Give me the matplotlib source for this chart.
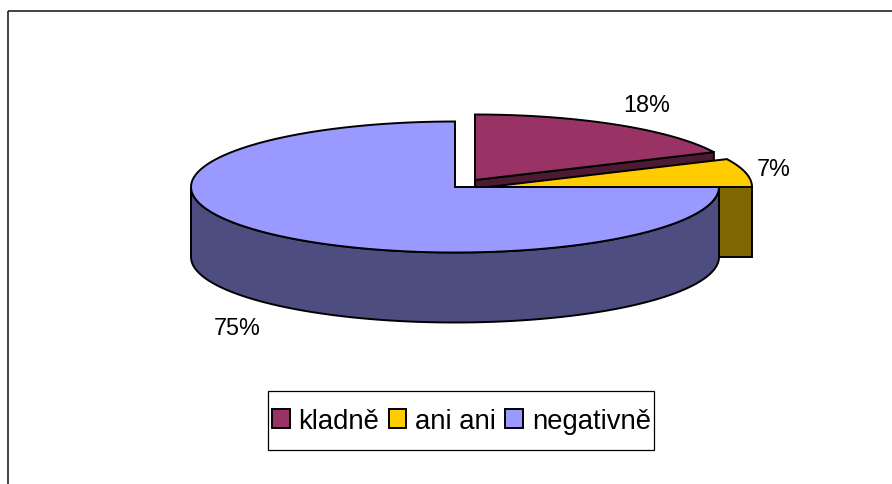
import numpy as np
import matplotlib
matplotlib.use('Agg')
import matplotlib.pyplot as plt
from matplotlib.patches import Polygon, Rectangle, Patch

labels = ['kladně', 'ani ani', 'negativně']
values = [18, 7, 75]
top_colors = ['#993366', '#ffcc00', '#9999ff']
side_colors = ['#4d1a33', '#806600', '#4d4d80']

# pie geometry in pixels
cx, cy = 455, 188
rx, ry = 264, 65.5
depth = 70
offsets = [(20, -7), (33, 0), (0, 0)]
label_pos = [(647, 105.5), (774, 169.5), (237, 329)]
lw = 1.4

plt.rcParams['font.family'] = ['Liberation Sans', 'DejaVu Sans']

fig = plt.figure(figsize=(8.92, 4.85), dpi=100)
ax = fig.add_axes([0, 0, 1, 1])
ax.set_xlim(0, 892)
ax.set_ylim(485, 0)
ax.axis('off')

# chart frame, runs off the right and bottom of the picture
ax.add_patch(Rectangle((7.5, 12), 900, 500, fill=False, ec='#222222', lw=1.2))

# slice angles, clockwise from 12 o'clock
ends = np.cumsum(values) / sum(values) * 360
starts = ends - np.array(values) / sum(values) * 360


def arc(i, a0, a1):
    t = np.radians(np.linspace(a0, a1, 120))
    return (cx + offsets[i][0] + rx * np.sin(t),
            cy + offsets[i][1] - ry * np.cos(t))


for i in range(3):
    ox, oy = cx + offsets[i][0], cy + offsets[i][1]
    x, y = arc(i, starts[i], ends[i])

    # side wall first
    if i == 2:
        # front half of the rim only
        xs, ys = arc(i, max(starts[i], 90), min(ends[i], 270))
        px = np.r_[xs, xs[::-1]]
        py = np.r_[ys, ys[::-1] + depth]
    elif i == 1:
        # only the cut face at 3 o'clock shows
        px = [x[-1], x[-1], x[-1] - 33, x[-1] - 33]
        py = [y[-1], y[-1] + depth, y[-1] + depth, y[-1]]
    else:
        # wall under the far radial edge, mostly hidden by the next slice
        px = [ox, x[-1], x[-1], ox]
        py = [oy, y[-1], y[-1] + depth, oy + depth]
    ax.add_patch(Polygon(np.c_[px, py], closed=True, fc=side_colors[i],
                         ec='black', lw=lw, joinstyle='miter', zorder=i * 2 + 1))

    # top face
    px = np.r_[ox, x]
    py = np.r_[oy, y]
    ax.add_patch(Polygon(np.c_[px, py], closed=True, fc=top_colors[i],
                         ec='black', lw=lw, joinstyle='miter', zorder=i * 2 + 2))

    ax.text(label_pos[i][0], label_pos[i][1], '%d%%' % values[i], fontsize=16.8,
            ha='center', va='center', color='black', zorder=10)

# legend box drawn apart, its padding is wider in y than in x
ax.add_patch(Rectangle((268, 392), 386, 59, fc='white', ec='black', lw=0.9, zorder=11))
handles = [Patch(fc=c, ec='black', lw=lw) for c in top_colors]
leg = ax.legend(handles, labels, ncol=3, loc='center',
                bbox_to_anchor=(461.5, 422), bbox_transform=ax.transData,
                fontsize=19.8, frameon=False, borderpad=0, borderaxespad=0,
                handlelength=0.65, handleheight=0.65, handletextpad=0.33,
                columnspacing=0.33)
leg.set_zorder(12)

plt.savefig('out.png', dpi=100)
